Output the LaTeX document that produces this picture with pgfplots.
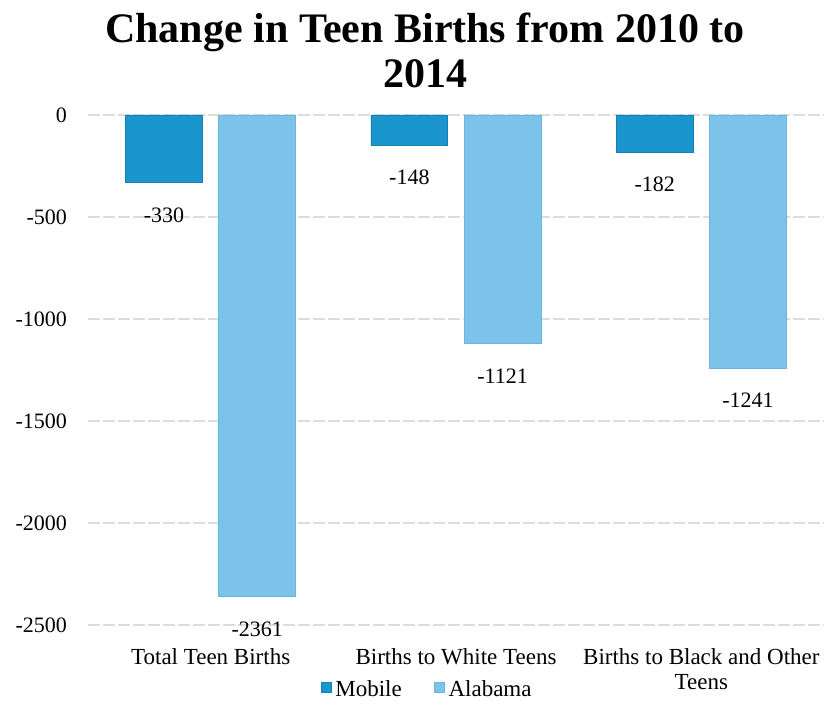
\documentclass[border=0pt]{standalone}
\usepackage{pgfplots}
\pgfplotsset{compat=1.18}
\usepackage{fontspec}
\setmainfont{Liberation Serif}
\definecolor{mobile}{HTML}{1B95CD}
\definecolor{mobileedge}{HTML}{1780B2}
\definecolor{alabama}{HTML}{7CC3EA}
\definecolor{alabamaedge}{HTML}{6BB4DD}
\definecolor{gridgray}{HTML}{DCDCDC}
\begin{document}
\begin{tikzpicture}
\useasboundingbox (0,0) rectangle (412pt,352pt);
\begin{axis}[
  at={(44pt,39.5pt)}, anchor=south west,
  scale only axis, width=368pt, height=255pt,
  xmin=-0.5, xmax=2.5, ymin=-2500, ymax=0,
  ybar, bar width=0.313,
  clip=false,
  axis line style={draw=none}, tick style={draw=none},
  ymajorgrids, grid style={gridgray, dash pattern=on 6pt off 1.5pt, line width=0.6pt},
  xtick={0,1,2},
  xticklabels={Total Teen Births, Births to White Teens, {Births to Black and Other\\Teens}},
  xticklabel style={align=center, font=\fontsize{11.5}{12.5}\selectfont, yshift=-4pt},
  ytick={-2500,-2000,-1500,-1000,-500,0},
  yticklabel style={font=\fontsize{11}{13}\selectfont, xshift=-7pt},
  /pgf/number format/.cd, 1000 sep={}, assume math mode=true, /pgfplots/.cd,
  nodes near coords,
  every node near coord/.append style={font=\fontsize{11}{13}\selectfont, anchor=north, yshift=-9pt, black},
  legend columns=2,
  legend style={at={(0.462,-0.1275)}, anchor=center, draw=none, fill=none,
    font=\fontsize{11.5}{13}\selectfont,
    /tikz/every even column/.append style={column sep=14pt}},
  legend image code/.code={\fill[#1] (0pt,-1pt) rectangle (5pt,4pt);},
]
\addplot[fill=mobile, draw=mobileedge, bar shift=-0.19] coordinates {(0,-330) (1,-148) (2,-182)};
\addplot[fill=alabama, draw=alabamaedge, bar shift=0.19] coordinates {(0,-2361) (1,-1121) (2,-1241)};
\legend{Mobile, Alabama}
\end{axis}
\node[anchor=base, font=\fontsize{21}{24}\selectfont\bfseries] at (212.5pt,330.5pt) {Change in Teen Births from 2010 to};
\node[anchor=base, font=\fontsize{21}{24}\selectfont\bfseries] at (212.5pt,308pt) {2014};
\end{tikzpicture}
\end{document}
